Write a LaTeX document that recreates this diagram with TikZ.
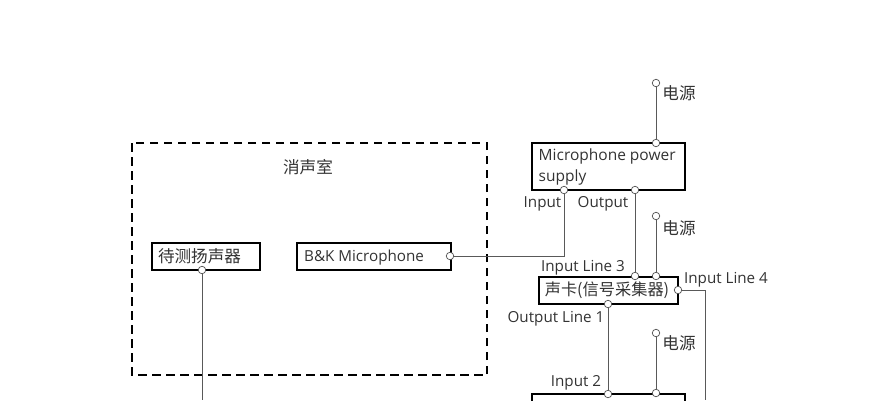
\documentclass[tikz,border=0pt]{standalone}
\usepackage{fontspec}
\setmainfont{Open Sans}
\newfontfamily\cjk{Noto Sans CJK SC}
\usetikzlibrary{positioning}
\tikzset{
  unitbox/.style={draw, line width=2pt, inner sep=0pt, outer sep=0pt, anchor=north west},
  portdot/.style={circle, draw=black!70, fill=white, line width=0.7pt, inner sep=0pt, minimum size=7.5pt},
  wire/.style={draw=black!65, line width=0.9pt},
  portlabel/.style={inner sep=0pt, text=black!80, font=\fontsize{15.2}{18}\selectfont},
  cjklabel/.style={inner sep=0pt, text=black!80, font=\cjk\fontsize{16.6}{20}\selectfont}
}
\begin{document}
\begin{tikzpicture}[x=1pt, y=-1pt]
    \useasboundingbox (0,0) rectangle (889,400);
    \clip (0,0) rectangle (889,400);
    % chamber
    \draw[line width=2pt, dash pattern=on 8.5pt off 5.5pt] (132,143) rectangle (487,375);
    \node[cjklabel] (room) at (308,167) {消声室};
    % boxes
    \node[unitbox, minimum width=108pt, minimum height=27pt] (speaker) at (152,243) {};
    \node[cjklabel] (speakertext) at (199.5,256) {待测扬声器};
    \node[unitbox, minimum width=154pt, minimum height=27pt] (mic) at (297,243) {};
    \node[portlabel, anchor=west] (mictext) at (304,257.5) {B\&K Microphone};
    \node[unitbox, minimum width=153pt, minimum height=47pt] (supply) at (532,143) {};
    \node[portlabel, anchor=north west, align=left, font=\fontsize{15.5}{21}\selectfont] (supplytext) at (538.5,148.5) {Microphone power\\supply};
    \node[unitbox, minimum width=139pt, minimum height=27pt] (card) at (539,277) {};
    \node[cjklabel, font=\cjk\fontsize{16.2}{20}\selectfont] (cardtext) at (607,290) {声卡(信号采集器)};
    \node[unitbox, minimum width=153pt, minimum height=30pt] (amp) at (532,394) {};
    % ports
    \node[portdot] (p1) at (656,83) {};
    \node[portdot] (p2) at (656,143) {};
    \node[portdot] (p3) at (564,190) {};
    \node[portdot] (p4) at (635,190) {};
    \node[portdot] (p5) at (656,216) {};
    \node[portdot] (p6) at (635,276) {};
    \node[portdot] (p7) at (656,276) {};
    \node[portdot] (p8) at (678,290) {};
    \node[portdot] (p9) at (608,304) {};
    \node[portdot] (p10) at (656,333) {};
    \node[portdot] (p11) at (608,394) {};
    \node[portdot] (p12) at (656,393) {};
    \node[portdot] (p13) at (450,256) {};
    \node[portdot] (p14) at (202,270) {};
    \coordinate (micturn) at (564,256);
    \coordinate (lineturn) at (705,290);
    \coordinate (lineend) at (705,400);
    \coordinate (speakerend) at (202,400);
    % wires
    \draw[wire] (p1) -- (p2);
    \draw[wire] (p3) -- (micturn) -- (p13);
    \draw[wire] (p4) -- (p6);
    \draw[wire] (p5) -- (p7);
    \draw[wire] (p8) -- (lineturn) -- (lineend);
    \draw[wire] (p9) -- (p11);
    \draw[wire] (p10) -- (p12);
    \draw[wire] (p14) -- (speakerend);
    % labels
    \node[cjklabel] (power1) at (679,93.5) {电源};
    \node[cjklabel] (power2) at (679,228) {电源};
    \node[cjklabel] (power3) at (679,343.5) {电源};
    \node[portlabel] (inlabel) at (542.5,204) {Input};
    \node[portlabel] (outlabel) at (603,204) {Output};
    \node[portlabel] (line3) at (583,268) {Input Line 3};
    \node[portlabel] (line4) at (726,280) {Input Line 4};
    \node[portlabel] (line1) at (556,319) {Output Line 1};
    \node[portlabel] (in2) at (576,383) {Input 2};
\end{tikzpicture}
\end{document}
